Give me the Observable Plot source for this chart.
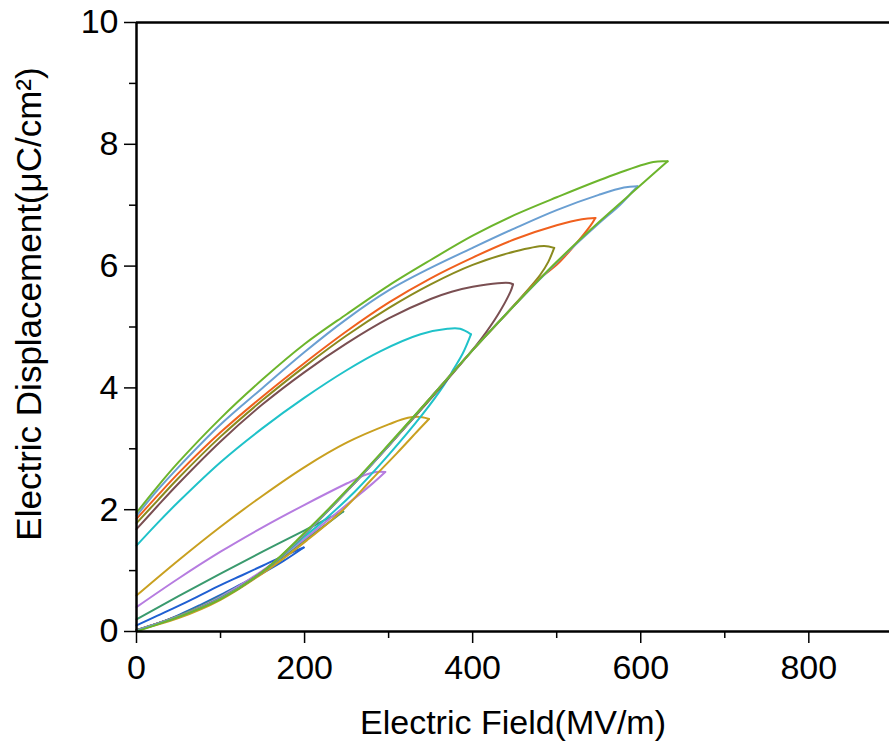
<!DOCTYPE html>
<html><head><meta charset="utf-8">
<script src="https://cdn.jsdelivr.net/npm/d3@7"></script>
<script src="https://cdn.jsdelivr.net/npm/@observablehq/plot@0.6"></script>
<style>body{margin:0;background:#fff;} #chart svg{display:block;}</style>
</head><body><div id="chart"></div>
<script>
// Loops: maximum field (MV/m) and colours
const loopNames  = ["200","250","300","350","400","450","500","550","600","633"];
const loopColors = ["#1f5fd2","#3a9a6e","#b67ce0","#c9a020","#1fc2c9","#7a4f52","#8a8a1e","#f0601e","#6a9fd2","#6cb52c"];

const xTicks = [0, 200, 400, 600, 800];
const xMinor = [100, 300, 500, 700];
const yTicks = [0, 2, 4, 6, 8, 10];
const yMinor = [1, 3, 5, 7, 9];

// charging (lower) and discharging (upper) branches, E in MV/m, D in µC/cm²
const chargeE_200 = [0, 25, 50, 75, 100, 125, 150, 175, 199];
const chargeD_200 = [0.02, 0.13, 0.27, 0.43, 0.6, 0.78, 0.96, 1.16, 1.38];
const dischE_200  = [199, 175, 150, 125, 100, 75, 50, 25, 0];
const dischD_200  = [1.38, 1.24, 1.08, 0.92, 0.76, 0.59, 0.42, 0.26, 0.1];

const chargeE_250 = [0, 50, 100, 150, 200, 225, 246];
const chargeD_250 = [0.02, 0.26, 0.58, 0.98, 1.5, 1.75, 1.97];
const dischE_250  = [246, 230, 200, 150, 100, 50, 0];
const dischD_250  = [1.97, 1.87, 1.66, 1.31, 0.95, 0.58, 0.2];

const chargeE_300 = [0, 50, 100, 150, 200, 250, 280, 296];
const chargeD_300 = [0.02, 0.25, 0.57, 1.0, 1.52, 2.08, 2.42, 2.62];
const dischE_300  = [296, 285, 270, 250, 200, 150, 100, 50, 0];
const dischD_300  = [2.62, 2.62, 2.56, 2.43, 2.08, 1.71, 1.31, 0.87, 0.4];

const chargeE_350 = [0, 50, 100, 160, 203, 246, 280, 310, 335, 348];
const chargeD_350 = [0.02, 0.22, 0.52, 1.05, 1.5, 2.0, 2.5, 2.93, 3.3, 3.49];
const dischE_350  = [348, 340, 323, 300, 250, 200, 150, 100, 50, 0];
const dischD_350  = [3.49, 3.52, 3.51, 3.4, 3.1, 2.7, 2.23, 1.72, 1.17, 0.59];

const chargeE_400 = [0, 50, 100, 150, 200, 221, 260, 300, 340, 366, 377, 388, 398];
const chargeD_400 = [0.02, 0.24, 0.55, 0.98, 1.56, 1.8, 2.3, 2.9, 3.56, 4.05, 4.3, 4.56, 4.88];
const dischE_400  = [398, 385, 370, 338, 290, 250, 200, 150, 100, 50, 25, 0];
const dischD_400  = [4.88, 4.97, 4.97, 4.88, 4.6, 4.29, 3.84, 3.34, 2.78, 2.13, 1.78, 1.41];

const chargeE_450 = [0, 50, 100, 150, 200, 250, 300, 350, 390, 410, 430, 445, 448];
const chargeD_450 = [0.02, 0.25, 0.54, 0.98, 1.6, 2.3, 3.05, 3.82, 4.46, 4.8, 5.2, 5.58, 5.7];
const dischE_450  = [448, 445, 430, 400, 375, 350, 300, 250, 200, 150, 100, 50, 25, 0];
const dischD_450  = [5.7, 5.72, 5.72, 5.66, 5.58, 5.46, 5.14, 4.73, 4.26, 3.73, 3.12, 2.43, 2.06, 1.68];

const chargeE_500 = [0, 50, 100, 150, 200, 250, 300, 350, 400, 450, 480, 490, 497];
const chargeD_500 = [0.02, 0.25, 0.54, 0.98, 1.6, 2.3, 3.05, 3.84, 4.62, 5.37, 5.85, 6.07, 6.3];
const dischE_500  = [497, 485, 450, 400, 350, 300, 250, 200, 150, 100, 50, 25, 0];
const dischD_500  = [6.3, 6.33, 6.24, 6.02, 5.7, 5.31, 4.86, 4.35, 3.8, 3.2, 2.52, 2.15, 1.78];

const chargeE_550 = [0, 50, 100, 150, 200, 250, 300, 350, 400, 450, 480, 500, 520, 540, 546];
const chargeD_550 = [0.02, 0.25, 0.54, 0.98, 1.6, 2.3, 3.05, 3.84, 4.62, 5.36, 5.8, 6.02, 6.32, 6.66, 6.79];
const dischE_550  = [546, 530, 500, 450, 400, 350, 300, 250, 200, 150, 100, 50, 25, 0];
const dischD_550  = [6.79, 6.77, 6.67, 6.44, 6.14, 5.8, 5.4, 4.93, 4.41, 3.86, 3.27, 2.6, 2.23, 1.85];

const chargeE_600 = [0, 50, 100, 150, 200, 250, 300, 350, 400, 450, 500, 550, 575, 590, 596];
const chargeD_600 = [0.02, 0.25, 0.54, 0.98, 1.6, 2.3, 3.05, 3.84, 4.62, 5.36, 6.06, 6.7, 7.0, 7.22, 7.31];
const dischE_600  = [596, 580, 550, 500, 450, 400, 350, 300, 250, 200, 150, 100, 50, 25, 0];
const dischD_600  = [7.31, 7.29, 7.17, 6.92, 6.62, 6.3, 5.97, 5.6, 5.13, 4.59, 4.0, 3.4, 2.7, 2.32, 1.9];

const chargeE_633 = [0, 50, 100, 150, 200, 250, 300, 350, 400, 450, 500, 550, 600, 632];
const chargeD_633 = [0, 0.24, 0.53, 0.98, 1.62, 2.32, 3.07, 3.84, 4.62, 5.36, 6.07, 6.72, 7.33, 7.72];
const dischE_633  = [632, 615, 568, 500, 450, 400, 350, 300, 250, 200, 150, 100, 50, 25, 0];
const dischD_633  = [7.72, 7.71, 7.5, 7.13, 6.84, 6.5, 6.1, 5.68, 5.21, 4.72, 4.14, 3.5, 2.78, 2.38, 1.95];

const xLabel = "Electric Field(MV/m)";
const yLabel = "Electric Displacement(μC/cm²)";

const branches = [
  ["200", chargeE_200, chargeD_200, dischE_200, dischD_200],
  ["250", chargeE_250, chargeD_250, dischE_250, dischD_250],
  ["300", chargeE_300, chargeD_300, dischE_300, dischD_300],
  ["350", chargeE_350, chargeD_350, dischE_350, dischD_350],
  ["400", chargeE_400, chargeD_400, dischE_400, dischD_400],
  ["450", chargeE_450, chargeD_450, dischE_450, dischD_450],
  ["500", chargeE_500, chargeD_500, dischE_500, dischD_500],
  ["550", chargeE_550, chargeD_550, dischE_550, dischD_550],
  ["600", chargeE_600, chargeD_600, dischE_600, dischD_600],
  ["633", chargeE_633, chargeD_633, dischE_633, dischD_633]
];
const rows = [];
for (const [loop, cE, cD, dE, dD] of branches) {
  cE.forEach((e, i) => rows.push({loop, key: loop + "c", E: e, D: cD[i]}));
  dE.forEach((e, i) => rows.push({loop, key: loop + "d", E: e, D: dD[i]}));
}

const font = "'Liberation Sans', Arial, Helvetica, sans-serif";
const plot = Plot.plot({
  width: 889, height: 748,
  marginLeft: 136, marginRight: 0, marginTop: 22, marginBottom: 117,
  style: {fontFamily: font, fontSize: "34px", background: "white", color: "black"},
  x: {domain: [0, 896]},
  y: {domain: [0, 10]},
  color: {domain: loopNames, range: loopColors},
  marks: [
    Plot.line(rows, {x: "E", y: "D", z: "key", stroke: "loop", strokeWidth: 2, curve: "catmull-rom"}),
    Plot.axisX({ticks: xMinor, tickSize: 7, tickFormat: () => "", label: null, strokeWidth: 1.5}),
    Plot.axisX({ticks: xTicks, tickSize: 12, tickPadding: 11, tickFormat: d => String(d), label: null, strokeWidth: 1.5}),
    Plot.axisY({ticks: yMinor, tickSize: 7, tickFormat: () => "", label: null, strokeWidth: 1.5}),
    Plot.axisY({ticks: yTicks, tickSize: 12, tickPadding: 6, tickFormat: d => String(d), label: null, strokeWidth: 1.5}),
    Plot.ruleY([0], {strokeWidth: 2.5}),
    Plot.ruleY([10], {strokeWidth: 2.5}),
    Plot.ruleX([0], {strokeWidth: 2.5}),
    Plot.text([xLabel], {frameAnchor: "bottom", dy: 102, fontSize: 34}),
    Plot.text([yLabel], {frameAnchor: "left", textAnchor: "middle", rotate: -90, dx: -107, dy: -23, fontSize: 35})
  ]
});
document.getElementById("chart").appendChild(plot);
</script>
</body></html>
